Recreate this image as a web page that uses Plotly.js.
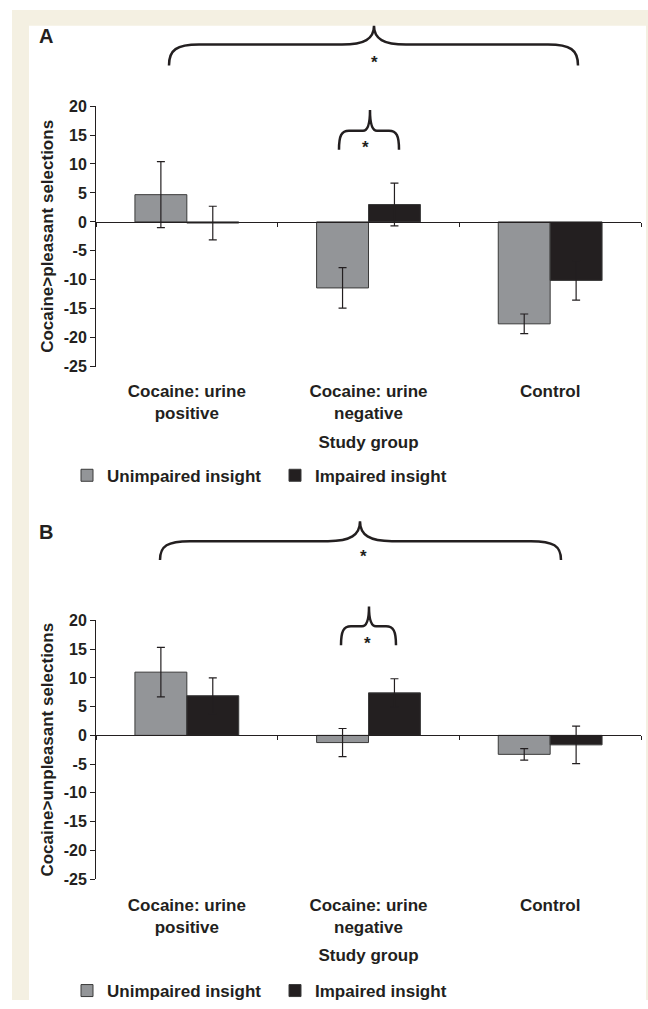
<!DOCTYPE html>
<html>
<head>
<meta charset="utf-8">
<script src="https://cdn.plot.ly/plotly-3.0.1.min.js"></script>
<style>html,body{margin:0;padding:0;background:#fff;}#chart{width:648px;height:1009px;}</style>
</head>
<body>
<div id="chart"></div>
<script>
// ---- data ----
const categories = ['Cocaine: urine<br>positive', 'Cocaine: urine<br>negative', 'Control'];
const seriesNames = ['Unimpaired insight', 'Impaired insight'];
// Panel A: Cocaine>pleasant selections
const unimpairedA = [4.7, -11.4, -17.6];
const unimpairedAErr = [5.7, 3.5, 1.7];
const impairedA = [-0.2, 3.0, -10.1];
const impairedAErr = [2.9, 3.7, 3.4];
// Panel B: Cocaine>unpleasant selections
const unimpairedB = [11.0, -1.25, -3.3];
const unimpairedBErr = [4.3, 2.45, 1.0];
const impairedB = [6.9, 7.4, -1.65];
const impairedBErr = [3.1, 2.45, 3.25];
const yTickVals = [20, 15, 10, 5, 0, -5, -10, -15, -20, -25];

// ---- styling ----
const W = 648, H = 1009;
const INK = '#231f20';
const GREY = '#939598';
const BEIGE = '#f4f0e2';
const FONT = 'Liberation Sans, Arial, sans-serif';
const px = p => p / W;
const py = p => 1 - p / H;
const yRange = [-25, 20];

const domA = [py(370), py(107)];
const domB = [py(887), py(626)];
const zeroPos = d => d[0] + (d[1] - d[0]) * (0 - yRange[0]) / (yRange[1] - yRange[0]);

function barTrace(name, y, err, color, xa, ya, leg, show) {
  return {
    type: 'bar', name: name, x: categories, y: y,
    xaxis: xa, yaxis: ya, legend: leg, showlegend: show,
    marker: {color: color, line: {color: '#3a3a3a', width: 1}},
    error_y: {type: 'data', array: err, visible: true, color: INK, thickness: 1.2, width: 4}
  };
}

const data = [
  barTrace(seriesNames[0], unimpairedA, unimpairedAErr, GREY, 'x', 'y', 'legend', true),
  barTrace(seriesNames[1], impairedA, impairedAErr, INK, 'x', 'y', 'legend', true),
  barTrace(seriesNames[0], unimpairedB, unimpairedBErr, GREY, 'x2', 'y2', 'legend2', true),
  barTrace(seriesNames[1], impairedB, impairedBErr, INK, 'x2', 'y2', 'legend2', true)
];

const tickFont = {family: FONT, size: 16, color: INK, weight: 'bold'};
const labFont = {family: FONT, size: 17, color: INK, weight: 'bold'};

function xAxis(dom) {
  return {
    domain: [px(96), px(641)], anchor: 'free', position: zeroPos(dom),
    type: 'category', showline: true, linecolor: INK, linewidth: 1,
    ticks: 'outside', tickson: 'boundaries', ticklen: 4, tickcolor: INK, tickwidth: 1,
    showgrid: false, zeroline: false, tickfont: labFont, ticklabelstandoff: 154,
    title: {text: 'Study group', font: labFont, standoff: 13},
    automargin: false, fixedrange: true
  };
}
function yAxis(title, dom, xname) {
  return {
    domain: dom, anchor: xname, range: yRange, tickvals: yTickVals, ticktext: yTickVals.map(String),
    showline: true, linecolor: INK, linewidth: 1, ticks: 'outside', ticklen: 5, tickcolor: INK,
    showgrid: false, zeroline: false, tickfont: tickFont,
    title: {text: title, font: labFont, standoff: 5}, automargin: false, fixedrange: true
  };
}

function brace(x1, x2, xm, yEnd, yArm, yPeak, r, c) {
  const P = (x, y) => px(x).toFixed(5) + ',' + py(y).toFixed(5);
  const dv = yEnd - yArm, dp = yArm - yPeak;
  return 'M' + P(x1, yEnd) +
    ' C' + P(x1, yArm + dv * 0.25) + ' ' + P(x1 + r * 0.25, yArm) + ' ' + P(x1 + r, yArm) +
    ' L' + P(xm - c, yArm) +
    ' C' + P(xm - c * 0.3, yArm) + ' ' + P(xm, yArm - dp * 0.3) + ' ' + P(xm, yPeak) +
    ' C' + P(xm, yArm - dp * 0.3) + ' ' + P(xm + c * 0.3, yArm) + ' ' + P(xm + c, yArm) +
    ' L' + P(x2 - r, yArm) +
    ' C' + P(x2 - r * 0.25, yArm) + ' ' + P(x2, yArm + dv * 0.25) + ' ' + P(x2, yEnd);
}
const braceLine = {color: INK, width: 2.5};

const shapes = [
  {type: 'rect', xref: 'paper', yref: 'paper', x0: px(12), x1: px(648), y0: py(26), y1: py(10), fillcolor: BEIGE, line: {width: 0}, layer: 'below'},
  {type: 'rect', xref: 'paper', yref: 'paper', x0: px(12), x1: px(29), y0: 0, y1: py(10), fillcolor: BEIGE, line: {width: 0}, layer: 'below'},
  {type: 'rect', xref: 'paper', yref: 'paper', x0: px(646), x1: 1, y0: 0, y1: py(10), fillcolor: BEIGE, line: {width: 0}, layer: 'below'},
  {type: 'path', xref: 'paper', yref: 'paper', path: brace(169, 578, 374, 66, 45, 26, 30, 32), line: braceLine},
  {type: 'path', xref: 'paper', yref: 'paper', path: brace(339, 399, 370, 151, 132, 111, 10, 7), line: braceLine},
  {type: 'path', xref: 'paper', yref: 'paper', path: brace(160, 561, 360, 565, 546, 526, 30, 32), line: braceLine},
  {type: 'path', xref: 'paper', yref: 'paper', path: brace(341, 396, 369, 651, 632, 612, 10, 7), line: braceLine}
];

function ann(text, x, y, size, xanchor) {
  return {text: text, xref: 'paper', yref: 'paper', x: px(x), y: py(y), xanchor: xanchor || 'center', yanchor: 'middle',
    showarrow: false, font: {family: FONT, size: size, color: INK, weight: 'bold'}};
}
const annotations = [
  ann('A', 37, 36, 20, 'left'),
  ann('B', 37, 537, 20, 'left'),
  ann('*', 374, 63, 17),
  ann('*', 366, 149, 17),
  ann('*', 363, 562, 17),
  ann('*', 367, 649, 17)
];

function legend(yc) {
  return {orientation: 'h', x: px(67), y: py(yc), xanchor: 'left', yanchor: 'middle',
    font: labFont, bgcolor: 'rgba(0,0,0,0)', itemwidth: 30, entrywidth: 163, entrywidthmode: 'pixels',
    traceorder: 'normal', itemclick: false, itemdoubleclick: false};
}

const layout = {
  width: W, height: H,
  margin: {l: 0, r: 0, t: 0, b: 0},
  paper_bgcolor: '#ffffff', plot_bgcolor: 'rgba(0,0,0,0)',
  font: {family: FONT, color: INK},
  barmode: 'group', bargap: 0.4286, bargroupgap: 0,
  xaxis: xAxis(domA),
  yaxis: yAxis('Cocaine>pleasant selections', domA, 'x'),
  xaxis2: xAxis(domB),
  yaxis2: yAxis('Cocaine>unpleasant selections', domB, 'x2'),
  legend: legend(480),
  legend2: legend(1000),
  shapes: shapes,
  annotations: annotations
};

Plotly.newPlot('chart', data, layout, {displayModeBar: false, staticPlot: true});
</script>
</body>
</html>
